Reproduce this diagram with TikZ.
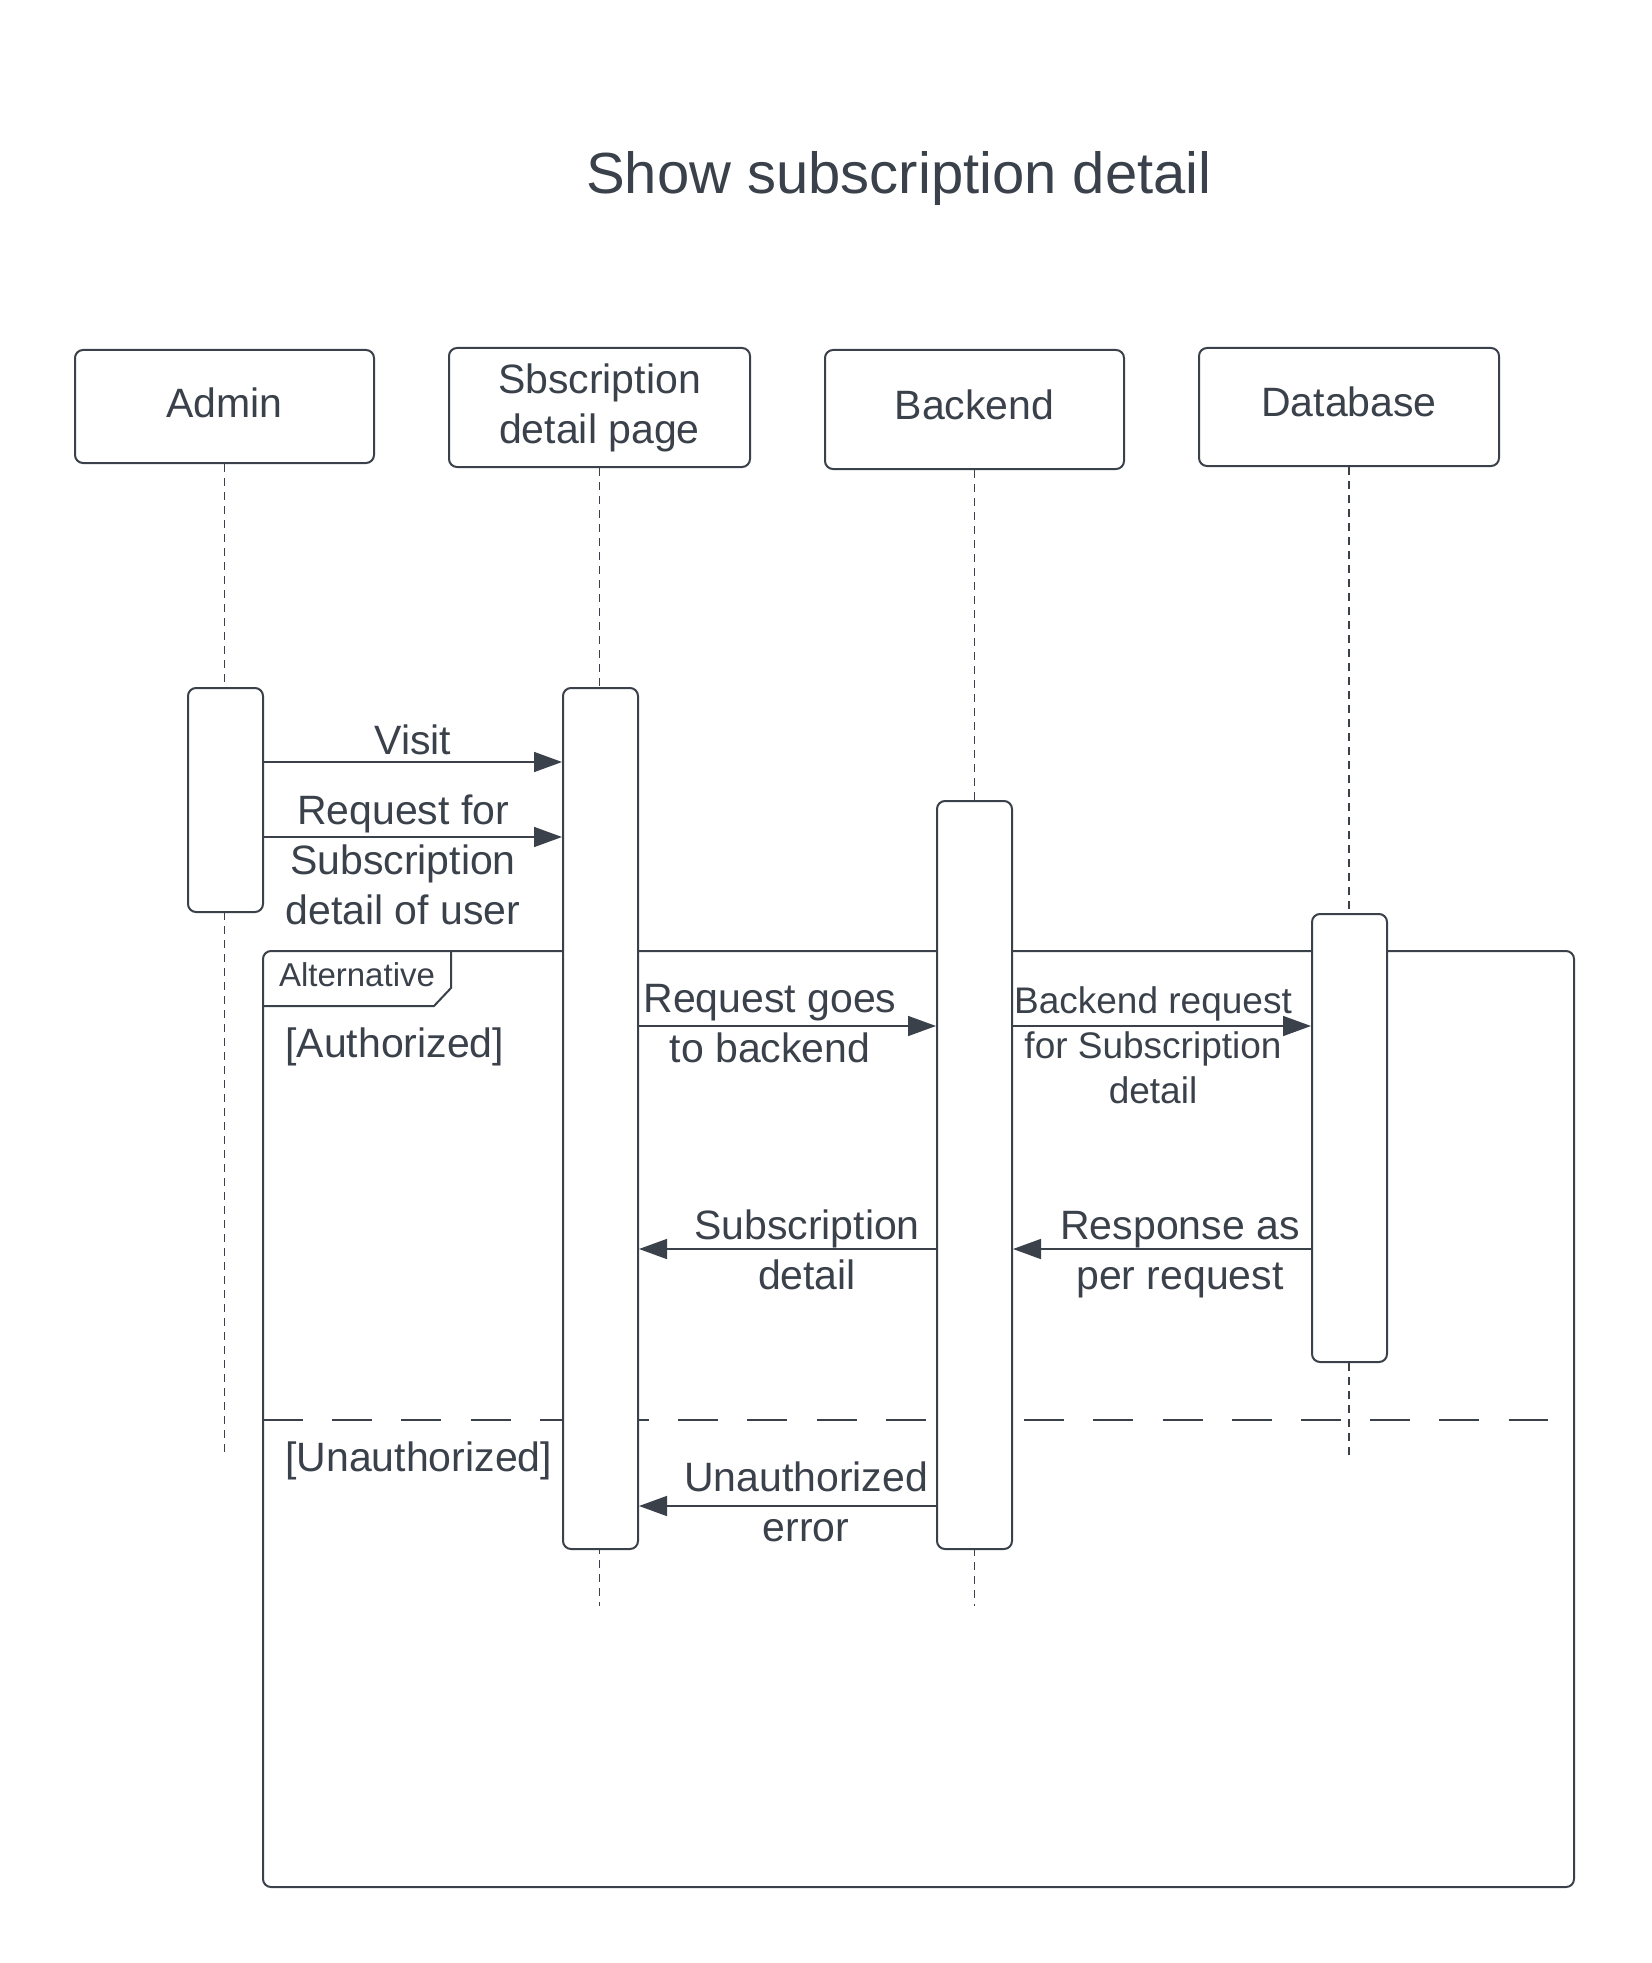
\documentclass[tikz,border=0pt]{standalone}
\usepackage{fontspec}
\setmainfont{Liberation Sans}
\usetikzlibrary{arrows.meta}
\definecolor{ink}{RGB}{58,65,74}
\begin{document}
\begin{tikzpicture}[x=0.5pt,y=-0.5pt,
  every node/.style={text=ink, font=\fontsize{20.5}{25}\selectfont},
  head/.style={draw=ink, line width=1pt, rounded corners=4pt, fill=white, align=center, inner sep=0pt},
  act/.style={draw=ink, line width=1pt, rounded corners=4pt, fill=white, minimum width=37.5pt, inner sep=0pt},
  life/.style={draw=ink, line width=0.6pt, dash pattern=on 4pt off 3pt},
  msg/.style={draw=ink, line width=0.8pt, -{Triangle[length=14pt,width=10pt]}},
  lbl/.style={align=center, inner sep=0pt},
  small/.style={font=\fontsize{18.5}{22.5}\selectfont},
]
\useasboundingbox (0,0) rectangle (1652,1963);

% title
\node[font=\fontsize{29}{34}\selectfont] (title) at (899,179) {Show subscription detail};

% heads
\node[head, minimum width=149.5pt, minimum height=56.5pt, text depth=4pt] (admin) at (224.5,406.5) {Admin};
\node[head, minimum width=150.5pt, minimum height=59.5pt] (page) at (599.5,407.5) {Sbscription\\detail page};
\node[head, minimum width=149.5pt, minimum height=59.5pt, text depth=5pt] (backend) at (974.5,409.5) {Backend};
\node[head, minimum width=150pt, minimum height=59pt, text depth=5pt] (db) at (1349,407) {Database};

% lifeline ends
\coordinate (endA) at (224.5,1455);
\coordinate (endS) at (599.5,1606);
\coordinate (endB) at (974.5,1606);
\coordinate (endD) at (1349,1455);
\draw[life] (admin.south) -- (endA);
\draw[life] (page.south) -- (endS);
\draw[life] (backend.south) -- (endB);
\draw[life] (db.south) -- (endD);

% alt frame
\draw[ink, line width=1pt, rounded corners=4pt] (263,951) rectangle (1574,1887);
\draw[ink, line width=1pt] (263,1006) -- (434,1006) -- (451,988) -- (451,951);
\node[font=\fontsize{16.5}{20}\selectfont, inner sep=0pt] (alt) at (357,975) {Alternative};
\node[anchor=west, inner sep=0pt] (authz) at (285,1047) {[Authorized]};
\node[anchor=west, inner sep=0pt] (unauthz) at (285,1461) {[Unauthorized]};
\draw[ink, line width=1pt, dash pattern=on 20pt off 14.6pt] (263,1420) -- (1548,1420);

% activations
\node[act, minimum height=112pt] (aA) at (225.5,800) {};
\node[act, minimum height=430.5pt] (aS) at (600.5,1118.5) {};
\node[act, minimum height=374pt] (aB) at (974.5,1175) {};
\node[act, minimum height=224pt] (aD) at (1349.5,1138) {};

% message levels
\coordinate (yVisit) at (0,762);
\coordinate (yReq) at (0,837);
\coordinate (yGo) at (0,1026);
\coordinate (yRet) at (0,1249);
\coordinate (yErr) at (0,1506);

\draw[msg] (aA.east |- yVisit) -- (aS.west |- yVisit);
\draw[msg] (aA.east |- yReq) -- (aS.west |- yReq);
\draw[msg] (aS.east |- yGo) -- (aB.west |- yGo);
\draw[msg] (aB.east |- yGo) -- (aD.west |- yGo);
\draw[msg] (aB.west |- yRet) -- (aS.east |- yRet);
\draw[msg] (aD.west |- yRet) -- (aB.east |- yRet);
\draw[msg] (aB.west |- yErr) -- (aS.east |- yErr);

% labels
\node[lbl] (lVisit) at (413,740) {Visit};
\node[lbl] (lReq) at (403,860) {Request for\\Subscription\\detail of user};
\node[lbl] (lGo) at (770,1024) {Request goes\\to backend};
\node[lbl, small] (lBR) at (1153,1045) {Backend request\\for Subscription\\detail};
\node[lbl] (lSD) at (807,1250) {Subscription\\detail};
\node[lbl] (lResp) at (1180,1255) {Response as\\per request};
\node[lbl] (lErr) at (806,1502) {Unauthorized\\error};
\end{tikzpicture}
\end{document}
